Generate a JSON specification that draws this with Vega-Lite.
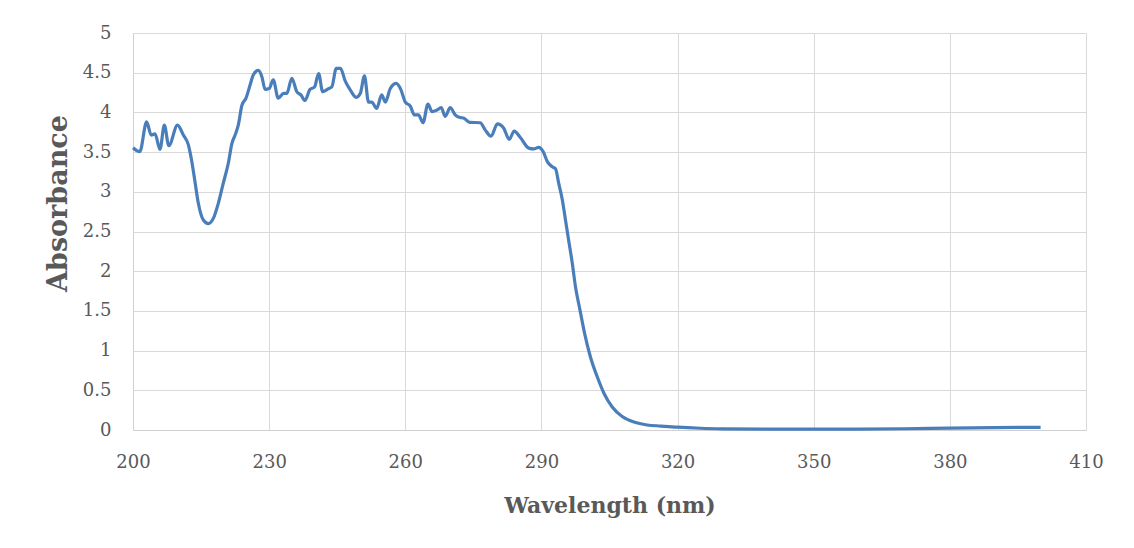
{
  "$schema": "https://vega.github.io/schema/vega-lite/v6.json",
  "width": 953,
  "height": 397,
  "autosize": {"type": "none"},
  "padding": {"left": 133, "top": 33, "right": 48, "bottom": 118},
  "background": "white",
  "config": {"view": {"stroke": null}, "font": "DejaVu Serif"},
  "data": {"values": [
    {"wavelength": 200.0, "absorbance": 3.555},
    {"wavelength": 201.5, "absorbance": 3.505},
    {"wavelength": 203.0, "absorbance": 3.88},
    {"wavelength": 204.0, "absorbance": 3.715},
    {"wavelength": 204.85, "absorbance": 3.73},
    {"wavelength": 205.95, "absorbance": 3.535},
    {"wavelength": 206.9, "absorbance": 3.84},
    {"wavelength": 207.9, "absorbance": 3.58},
    {"wavelength": 209.8, "absorbance": 3.84},
    {"wavelength": 211.1, "absorbance": 3.715},
    {"wavelength": 212.2, "absorbance": 3.59},
    {"wavelength": 212.9, "absorbance": 3.40},
    {"wavelength": 213.7, "absorbance": 3.11},
    {"wavelength": 214.4, "absorbance": 2.855},
    {"wavelength": 215.5, "absorbance": 2.645},
    {"wavelength": 216.6, "absorbance": 2.60},
    {"wavelength": 217.7, "absorbance": 2.665},
    {"wavelength": 218.8, "absorbance": 2.855},
    {"wavelength": 219.9, "absorbance": 3.11},
    {"wavelength": 221.0, "absorbance": 3.36},
    {"wavelength": 221.8, "absorbance": 3.61},
    {"wavelength": 222.5, "absorbance": 3.715},
    {"wavelength": 223.2, "absorbance": 3.84},
    {"wavelength": 224.0, "absorbance": 4.09},
    {"wavelength": 224.9, "absorbance": 4.18},
    {"wavelength": 225.8, "absorbance": 4.345},
    {"wavelength": 226.5, "absorbance": 4.47},
    {"wavelength": 227.6, "absorbance": 4.53},
    {"wavelength": 228.4, "absorbance": 4.45},
    {"wavelength": 229.1, "absorbance": 4.29},
    {"wavelength": 230.0, "absorbance": 4.30},
    {"wavelength": 230.9, "absorbance": 4.41},
    {"wavelength": 232.0, "absorbance": 4.18},
    {"wavelength": 233.2, "absorbance": 4.24},
    {"wavelength": 233.9, "absorbance": 4.24},
    {"wavelength": 235.0, "absorbance": 4.43},
    {"wavelength": 236.1, "absorbance": 4.26},
    {"wavelength": 237.0, "absorbance": 4.22},
    {"wavelength": 237.9, "absorbance": 4.15},
    {"wavelength": 239.0, "absorbance": 4.29},
    {"wavelength": 240.0, "absorbance": 4.32},
    {"wavelength": 240.9, "absorbance": 4.49},
    {"wavelength": 241.8, "absorbance": 4.26},
    {"wavelength": 243.1, "absorbance": 4.30},
    {"wavelength": 243.8, "absorbance": 4.32},
    {"wavelength": 244.8, "absorbance": 4.555},
    {"wavelength": 245.7, "absorbance": 4.555},
    {"wavelength": 246.8, "absorbance": 4.39},
    {"wavelength": 247.9, "absorbance": 4.28},
    {"wavelength": 249.2, "absorbance": 4.19},
    {"wavelength": 250.1, "absorbance": 4.24},
    {"wavelength": 251.0, "absorbance": 4.46},
    {"wavelength": 251.9, "absorbance": 4.13},
    {"wavelength": 252.6, "absorbance": 4.13},
    {"wavelength": 253.7, "absorbance": 4.05},
    {"wavelength": 254.8, "absorbance": 4.22},
    {"wavelength": 255.6, "absorbance": 4.13},
    {"wavelength": 256.7, "absorbance": 4.30},
    {"wavelength": 258.0, "absorbance": 4.365},
    {"wavelength": 259.0, "absorbance": 4.29},
    {"wavelength": 260.0, "absorbance": 4.13},
    {"wavelength": 261.1, "absorbance": 4.08},
    {"wavelength": 262.0, "absorbance": 3.97},
    {"wavelength": 262.9, "absorbance": 3.97},
    {"wavelength": 263.9, "absorbance": 3.87},
    {"wavelength": 265.0, "absorbance": 4.105},
    {"wavelength": 265.9, "absorbance": 4.01},
    {"wavelength": 267.0, "absorbance": 4.03},
    {"wavelength": 267.9, "absorbance": 4.06},
    {"wavelength": 268.8, "absorbance": 3.95},
    {"wavelength": 269.9, "absorbance": 4.06},
    {"wavelength": 271.0, "absorbance": 3.97},
    {"wavelength": 272.1, "absorbance": 3.935},
    {"wavelength": 272.8, "absorbance": 3.93},
    {"wavelength": 274.2, "absorbance": 3.875},
    {"wavelength": 276.5, "absorbance": 3.87},
    {"wavelength": 277.6, "absorbance": 3.78},
    {"wavelength": 278.9, "absorbance": 3.70},
    {"wavelength": 280.3, "absorbance": 3.855},
    {"wavelength": 281.7, "absorbance": 3.80},
    {"wavelength": 282.9, "absorbance": 3.66},
    {"wavelength": 284.0, "absorbance": 3.765},
    {"wavelength": 285.4, "absorbance": 3.68},
    {"wavelength": 287.2, "absorbance": 3.55},
    {"wavelength": 288.3, "absorbance": 3.54},
    {"wavelength": 289.4, "absorbance": 3.56},
    {"wavelength": 290.4, "absorbance": 3.505},
    {"wavelength": 291.3, "absorbance": 3.38},
    {"wavelength": 292.4, "absorbance": 3.315},
    {"wavelength": 293.1, "absorbance": 3.29},
    {"wavelength": 293.8, "absorbance": 3.11},
    {"wavelength": 294.6, "absorbance": 2.90},
    {"wavelength": 295.3, "absorbance": 2.645},
    {"wavelength": 296.0, "absorbance": 2.39},
    {"wavelength": 296.8, "absorbance": 2.10},
    {"wavelength": 297.5, "absorbance": 1.805},
    {"wavelength": 298.5, "absorbance": 1.51},
    {"wavelength": 299.5, "absorbance": 1.22},
    {"wavelength": 300.8, "absorbance": 0.92},
    {"wavelength": 302.3, "absorbance": 0.67},
    {"wavelength": 303.8, "absorbance": 0.46},
    {"wavelength": 305.6, "absorbance": 0.29},
    {"wavelength": 307.8, "absorbance": 0.17},
    {"wavelength": 310.4, "absorbance": 0.10},
    {"wavelength": 313.3, "absorbance": 0.063},
    {"wavelength": 316.3, "absorbance": 0.05},
    {"wavelength": 320, "absorbance": 0.035},
    {"wavelength": 325, "absorbance": 0.022},
    {"wavelength": 330, "absorbance": 0.015},
    {"wavelength": 340, "absorbance": 0.01},
    {"wavelength": 350, "absorbance": 0.01},
    {"wavelength": 360, "absorbance": 0.012},
    {"wavelength": 370, "absorbance": 0.016},
    {"wavelength": 380, "absorbance": 0.024},
    {"wavelength": 390, "absorbance": 0.03},
    {"wavelength": 400, "absorbance": 0.034}
  ]},
  "mark": {"type": "line", "color": "#4a7ebb", "strokeWidth": 3.2, "interpolate": "monotone"},
  "encoding": {
    "x": {
      "field": "wavelength", "type": "quantitative",
      "scale": {"domain": [200, 410], "nice": false, "zero": false},
      "axis": {
        "values": [200, 230, 260, 290, 320, 350, 380, 410],
        "title": "Wavelength (nm)",
        "grid": true, "gridColor": "#d9d9d9", "gridWidth": 1,
        "domainColor": "#d0d0d0", "domainWidth": 1,
        "ticks": false, "labelFlush": false,
        "labelFont": "DejaVu Serif", "labelFontSize": 18, "labelColor": "#595959", "labelPadding": 23,
        "titleFont": "DejaVu Serif", "titleFontSize": 22, "titleFontWeight": "bold", "titleColor": "#595959",
        "titleBaseline": "middle", "titleY": 75
      }
    },
    "y": {
      "field": "absorbance", "type": "quantitative",
      "scale": {"domain": [0, 5], "nice": false},
      "axis": {
        "values": [0, 0.5, 1, 1.5, 2, 2.5, 3, 3.5, 4, 4.5, 5],
        "format": "~g",
        "title": "Absorbance",
        "grid": true, "gridColor": "#d9d9d9", "gridWidth": 1,
        "domainColor": "#d0d0d0", "domainWidth": 1,
        "ticks": false, "labelFlush": false,
        "labelFont": "DejaVu Serif", "labelFontSize": 18, "labelColor": "#595959", "labelPadding": 22,
        "titleFont": "DejaVu Serif", "titleFontSize": 27, "titleFontWeight": "bold", "titleColor": "#595959",
        "titleBaseline": "middle", "titleX": -75, "titleY": 170
      }
    }
  }
}
